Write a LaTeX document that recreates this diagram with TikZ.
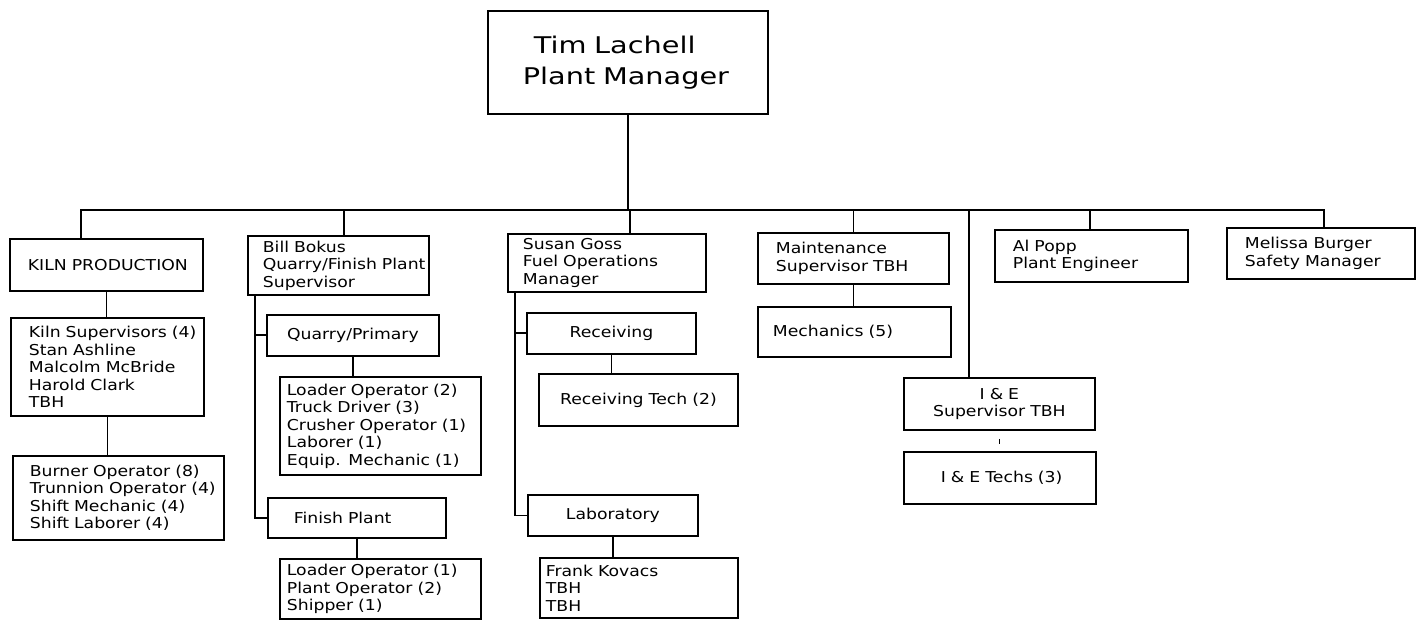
\documentclass[tikz,border=0pt]{standalone}
\usepackage{fontspec}
\usepackage{tikz}
\newfontfamily\cadfont[FakeStretch=1.15, WordSpace=1.6]{DejaVu Sans}
\newfontfamily\cadfontbig[FakeStretch=1.25, WordSpace=1.8]{DejaVu Sans}
\newcommand\cadsmall{\cadfont\fontsize{7.5}{8.75}\selectfont}
\newcommand\cadlarge{\cadfontbig\fontsize{11.5}{15.5}\selectfont}
\tikzset{
    font=\cadsmall,
    % Boxes
    unit/.style={draw, line width=0.9pt, anchor=north west, inner xsep=0pt, inner ysep=0pt},
    lbox/.style n args={3}{unit, text width=#1*0.5pt, minimum height=#2*0.5pt, align=left,
        execute at begin node={\leftskip=.5\dimexpr#3pt\relax\rightskip=-40pt plus 1fil}},
    cbox/.style 2 args={unit, text width=#1*0.5pt, minimum height=#2*0.5pt, align=center},
    % Lines
    link/.style={line width=0.9pt}
}

\begin{document}
\begin{tikzpicture}[x=0.5pt, y=-0.5pt]
\useasboundingbox (0,0) rectangle (1425,620);

\node[lbox={280}{103}{35}, font=\cadlarge] (boss) at (487,10) {\hspace*{5.5pt}Tim Lachell\\Plant Manager};

\node[lbox={193}{52}{18}] (kiln) at (9,238) {KILN PRODUCTION};
\node[lbox={193}{98}{18}] (kilnsup) at (10,317) {Kiln Supervisors (4)\\Stan Ashline\\Malcolm McBride\\Harold Clark\\TBH};
\node[lbox={211}{84}{17}] (burner) at (12,455) {Burner Operator (8)\\Trunnion Operator (4)\\Shift Mechanic (4)\\Shift Laborer (4)};

\node[lbox={181}{59}{15}] (bokus) at (247,235) {Bill Bokus\\Quarry/Finish Plant\\Supervisor};
\node[cbox={172}{41}] (quarry) at (266,314) {Quarry/Primary};
\node[lbox={201}{98}{7}] (quarryops) at (279,376) {Loader Operator (2)\\Truck Driver (3)\\Crusher Operator (1)\\Laborer (1)\\Equip. Mechanic (1)};
\node[lbox={178}{40}{26}] (finish) at (267,497) {Finish Plant};
\node[lbox={201}{60}{7}] (finishops) at (279,558) {Loader Operator (1)\\Plant Operator (2)\\Shipper (1)};

\node[lbox={198}{58}{15}] (goss) at (507,233) {Susan Goss\\Fuel Operations\\Manager};
\node[cbox={169}{41}] (receiving) at (526,312) {Receiving};
\node[cbox={199}{52}] (rectech) at (538,373) {Receiving Tech (2)};
\node[cbox={170}{41}] (lab) at (527,494) {Laboratory};
\node[lbox={198}{60}{6}] (labstaff) at (539,557) {Frank Kovacs\\TBH\\TBH};

\node[lbox={191}{51}{18}] (maint) at (757,232) {Maintenance\\Supervisor TBH};
\node[lbox={193}{50}{15}] (mech) at (757,306) {Mechanics (5)};

\node[cbox={191}{52}] (iesup) at (903,377) {I \& E\\Supervisor TBH};
\node[lbox={192}{52}{37}] (ietech) at (903,451) {I \& E Techs (3)};

\node[lbox={193}{52}{18}] (popp) at (994,229) {Al Popp\\Plant Engineer};
\node[lbox={188}{51}{18}] (safety) at (1226,227) {Melissa Burger\\Safety Manager};

% main bus
\coordinate (bus) at (0,210);
\draw[link] (boss.south) -- (boss.south |- bus);
\draw[link] ([xshift=-12.75pt]kiln.north) |- ([xshift=1.5pt]safety.north |- bus) -- ([xshift=1.5pt]safety.north);
\foreach \n/\dx in {bokus/2.75, goss/11.5, maint/0, iesup/-15.25, popp/-0.75}
    \draw[link] ([xshift=\dx pt]\n.north) -- ([xshift=\dx pt]\n.north |- bus);

% departments
\draw[link] (kiln.south) -- (kiln.south |- kilnsup.north);
\draw[link] (kilnsup.south) -- (kilnsup.south |- burner.north);
\draw[link] ([xshift=4pt]bokus.south west) |- (finish.west);
\draw[link] (quarry.west) -| ([xshift=4pt]bokus.south west);
\draw[link] (quarry.south) -- (quarry.south |- quarryops.north);
\draw[link] (finish.south) -- (finish.south |- finishops.north);
\draw[link] ([xshift=4pt]goss.south west) |- (lab.west);
\draw[link] (receiving.west) -| ([xshift=4pt]goss.south west);
\draw[link] (receiving.south) -- (receiving.south |- rectech.north);
\draw[link] (lab.south) -- (lab.south |- labstaff.north);
\draw[link] (maint.south) -- (maint.south |- mech.north);
\draw[line width=0.5pt, shorten <=4pt, shorten >=3.5pt] (iesup.south) -- (iesup.south |- ietech.north);

\end{tikzpicture}
\end{document}
